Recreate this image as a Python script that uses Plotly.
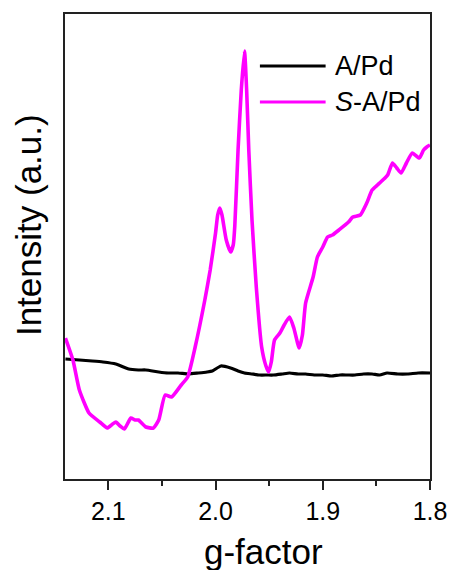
import plotly.graph_objects as go

# EPR spectra: intensity (a.u.) versus g-factor
g_apd = [2.140, 2.127, 2.115, 2.105, 2.093, 2.081, 2.072, 2.065, 2.053, 2.044,
         2.035, 2.025, 2.016, 2.008, 2.003, 1.995, 1.986, 1.979, 1.973, 1.966,
         1.959, 1.952, 1.946, 1.938, 1.931, 1.923, 1.916, 1.908, 1.900, 1.892,
         1.884, 1.877, 1.870, 1.862, 1.854, 1.847, 1.840, 1.830, 1.821, 1.811,
         1.800]
i_apd = [120, 119, 118, 117, 115, 110, 109, 109, 107, 106,
         106, 105, 106, 107, 108, 113, 111, 108, 106, 105,
         104, 104, 104, 105, 106, 105, 105, 104, 104, 103,
         104, 104, 104, 105, 105, 104, 106, 105, 105, 106,
         106]

g_sapd = [2.140, 2.133, 2.127, 2.118, 2.108, 2.101, 2.096, 2.093, 2.089, 2.085,
          2.079, 2.075, 2.072, 2.065, 2.058, 2.053, 2.047, 2.041, 2.032, 2.026,
          2.019, 2.010, 2.005, 2.000, 1.998, 1.996, 1.994, 1.990, 1.986, 1.9835,
          1.982, 1.979, 1.976, 1.973, 1.971, 1.969, 1.966, 1.962, 1.957, 1.953,
          1.9505, 1.948, 1.945, 1.940, 1.936, 1.931, 1.927, 1.922, 1.919, 1.916,
          1.909, 1.905, 1.900, 1.8955, 1.891, 1.885, 1.876, 1.872, 1.865, 1.859,
          1.854, 1.849, 1.844, 1.8395, 1.835, 1.831, 1.827, 1.822, 1.8165, 1.810,
          1.806, 1.803, 1.800]
i_sapd = [141, 119, 89, 66, 57, 51, 55, 57, 53, 50,
          61, 59, 59, 52, 51, 59, 84, 82, 94, 102,
          132, 179, 209, 246, 264, 271, 264, 239, 227, 234,
          254, 329, 389, 428, 389, 329, 259, 192, 132, 113,
          107, 117, 139, 146, 154, 162, 151, 131, 144, 176,
          202, 222, 232, 242, 244, 249, 257, 262, 264, 276,
          289, 294, 299, 304, 316, 311, 306, 316, 326, 321,
          329, 332, 334]

x_ticks = [2.1, 2.0, 1.9, 1.8]
x_ticklabels = ["2.1", "2.0", "1.9", "1.8"]

series_names = ["A/Pd", "<i>S</i>-A/Pd"]
series_colors = ["#000000", "#ff00ff"]

FONT = "Arial, Liberation Sans, sans-serif"

fig = go.Figure()
fig.add_trace(go.Scatter(x=g_apd, y=i_apd, mode="lines",
                         line=dict(color=series_colors[0], width=3.2, shape="spline", smoothing=0.5),
                         showlegend=False))
fig.add_trace(go.Scatter(x=g_sapd, y=i_sapd, mode="lines",
                         line=dict(color=series_colors[1], width=3.6, shape="spline", smoothing=0.5),
                         showlegend=False))

# hand-placed legend with long line samples
legend_rows = [0.888, 0.811]
for name, color, yp in zip(series_names, series_colors, legend_rows):
    fig.add_shape(type="line", xref="paper", yref="paper",
                  x0=0.534, x1=0.714, y0=yp, y1=yp,
                  line=dict(color=color, width=3))
    fig.add_annotation(x=0.733, y=yp, xref="paper", yref="paper",
                       text=name, showarrow=False, xanchor="left", yanchor="middle",
                       font=dict(family=FONT, size=27, color="#000"))

# axis titles
fig.add_annotation(x=0.545, y=-0.155, xref="paper", yref="paper", text="g-factor",
                   showarrow=False, xanchor="center", yanchor="middle",
                   font=dict(family=FONT, size=35, color="#000"))
fig.add_annotation(x=-0.1, y=0.545, xref="paper", yref="paper", text="Intensity (a.u.)",
                   showarrow=False, textangle=-90, xanchor="center", yanchor="middle",
                   font=dict(family=FONT, size=35, color="#000"))

fig.update_layout(
    width=459, height=570,
    margin=dict(l=65, r=23, t=14, b=91),
    paper_bgcolor="white", plot_bgcolor="white",
    font=dict(family=FONT, color="#000"),
)
fig.update_xaxes(
    range=[2.1404, 1.8], tickvals=x_ticks, ticktext=x_ticklabels,
    ticks="outside", ticklen=9, tickwidth=2, tickcolor="#222",
    minor=dict(dtick=0.05, ticks="outside", ticklen=5, tickwidth=2, tickcolor="#222"),
    tickfont=dict(family=FONT, size=25, color="#000"),
    showline=True, linecolor="#222", linewidth=2, mirror=True,
    showgrid=False, zeroline=False,
)
fig.update_yaxes(
    range=[0, 465], showticklabels=False, ticks="",
    showline=True, linecolor="#222", linewidth=2, mirror=True,
    showgrid=False, zeroline=False,
)

fig.write_html("out.html")
